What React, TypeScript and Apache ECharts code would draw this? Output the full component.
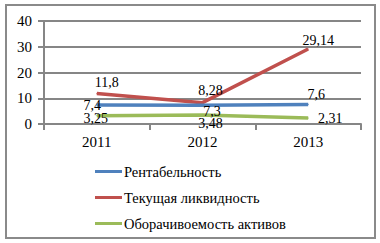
import React, { useEffect, useRef } from "react";
import * as echarts from "echarts";

const categories = ["2011", "2012", "2013"];
const seriesNames = ["Рентабельность", "Текущая ликвидность", "Оборачивоемость активов"];
const rentabelnost = [7.4, 7.3, 7.6];
const likvidnost = [11.8, 8.28, 29.14];
const oborachivaemost = [3.25, 3.48, 2.31];
const yTicks = [0, 10, 20, 30, 40];

const colors = ["#4F81BD", "#C0504D", "#9BBB59"];
// label offsets (layout only)
const labelOffsets = [
  [[-4.5, 1], [9.5, 6], [8, -10]],
  [[10, -11], [8, -12], [10, -8]],
  [[-1, 2.5], [8, 8], [22, 0]],
];

const FONT = "Times New Roman, Liberation Serif, serif";

export default function App() {
  const ref = useRef<HTMLDivElement>(null);
  useEffect(() => {
    document.body.style.margin = "0";
    const chart = echarts.init(ref.current!, null, { renderer: "svg" });
    const all = [rentabelnost, likvidnost, oborachivaemost];
    const series = all.map((vals, si) => ({
      name: seriesNames[si],
      type: "line",
      data: vals.map((v, i) => ({
        value: v,
        label: { offset: labelOffsets[si][i] },
      })),
      color: colors[si],
      symbol: "circle",
      symbolSize: 1,
      lineStyle: { width: 3.5, color: colors[si] },
      itemStyle: { color: colors[si] },
      label: {
        show: true,
        position: "inside",
        align: "center",
        verticalAlign: "middle",
        fontFamily: FONT,
        fontSize: 14,
        color: "#000",
        formatter: (p: any) => String(p.value).replace(".", ","),
      },
      z: 3 - si,
    }));
    chart.setOption({
      animation: false,
      textStyle: { fontFamily: FONT },
      grid: { left: 44, right: 19, top: 21, bottom: 119, containLabel: false },
      xAxis: {
        type: "category",
        data: categories,
        boundaryGap: true,
        axisLine: { lineStyle: { color: "#868686", width: 2 } },
        axisTick: { show: true, length: 6, lineStyle: { color: "#868686", width: 2 } },
        axisLabel: { fontFamily: FONT, fontSize: 15, color: "#000", margin: 10 },
      },
      yAxis: {
        type: "value",
        min: yTicks[0],
        max: yTicks[yTicks.length - 1],
        interval: 10,
        axisLine: { show: true, lineStyle: { color: "#868686", width: 2 } },
        axisTick: { show: true, length: 6, lineStyle: { color: "#868686", width: 2 } },
        splitLine: { lineStyle: { color: "#868686", width: 2 } },
        axisLabel: { fontFamily: FONT, fontSize: 15, color: "#000", margin: 12 },
      },
      legend: {
        orient: "vertical",
        left: 95,
        top: 164,
        padding: 0,
        icon: "rect",
        itemWidth: 27,
        itemHeight: 3,
        itemGap: 11,
        textStyle: { fontFamily: FONT, fontSize: 14.5, color: "#000", padding: [0, 0, 0, -3] },
        data: seriesNames,
      },
      graphic: [
        {
          type: "rect",
          shape: { x: 6, y: 5, width: 369, height: 233 },
          style: { fill: "none", stroke: "#8a8a8a", lineWidth: 2 },
          silent: true,
        },
      ],
      series,
    });
    return () => chart.dispose();
  }, []);
  return <div ref={ref} style={{ width: 380, height: 243 }} />;
}
